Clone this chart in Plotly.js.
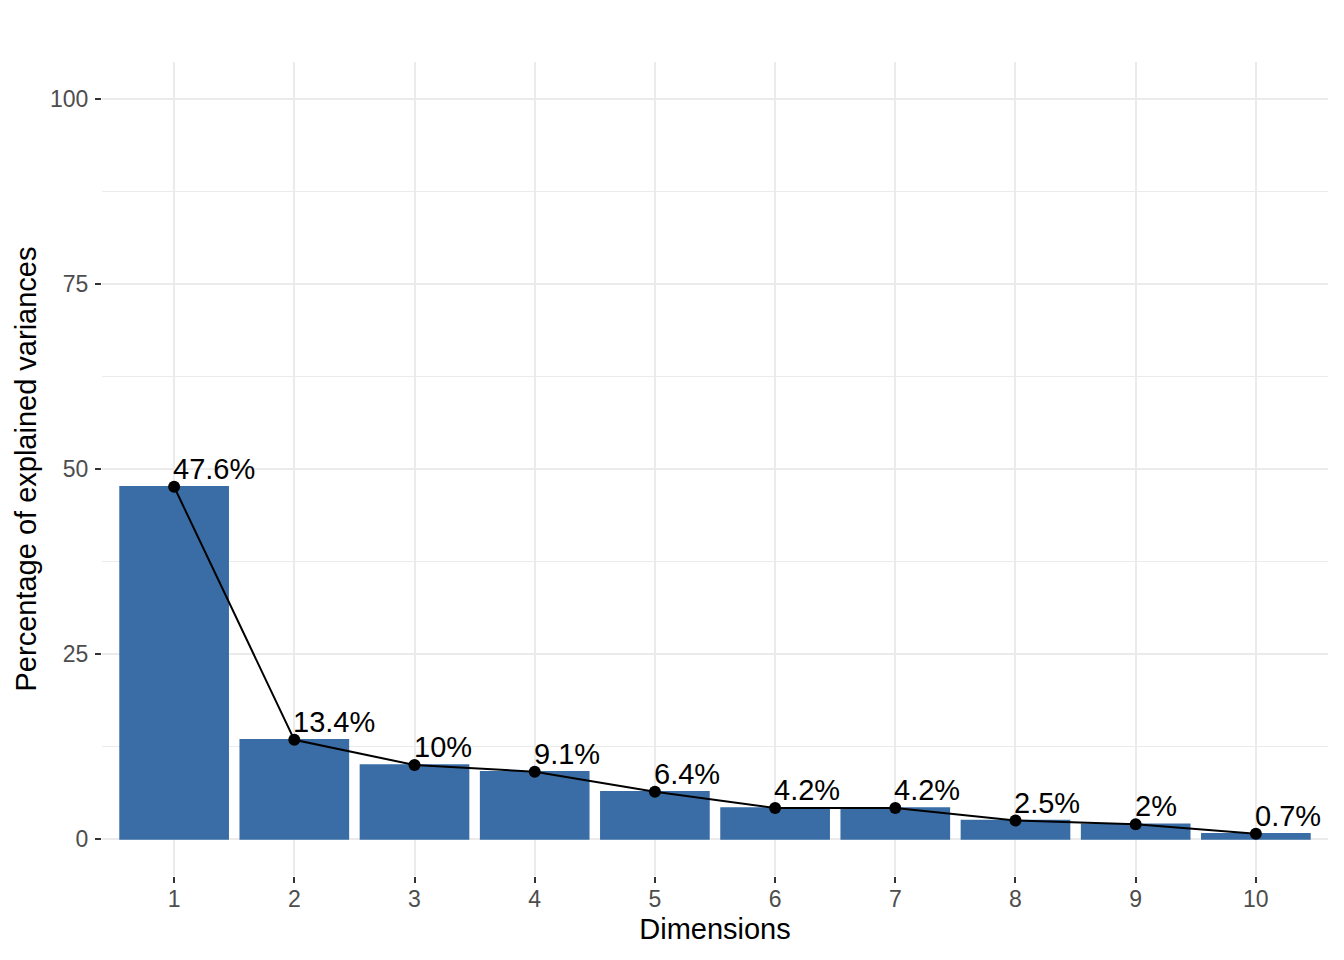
<!DOCTYPE html>
<html>
<head>
<meta charset="utf-8">
<script src="https://cdn.plot.ly/plotly-3.0.1.min.js"></script>
<style>
  body { margin: 0; background: #fff; }
  #gd { width: 1344px; height: 960px; }
</style>
</head>
<body>
<div id="gd"></div>
<script>
// explained variance per dimension (%)
const dims = [1, 2, 3, 4, 5, 6, 7, 8, 9, 10];
const variance = [47.6, 13.4, 10.0, 9.1, 6.4, 4.2, 4.2, 2.5, 2.0, 0.7];
const labels = ["47.6%", "13.4%", "10%", "9.1%", "6.4%", "4.2%", "4.2%", "2.5%", "2%", "0.7%"];

const font = "Liberation Sans, Arial, sans-serif";
const barColor = "#3A6DA5";

const bars = {
  x: dims,
  y: variance,
  type: "bar",
  width: 0.9,
  marker: { color: barColor, line: { color: barColor, width: 1.5 } },
  hoverinfo: "skip"
};

const line = {
  x: dims,
  y: variance,
  type: "scatter",
  mode: "lines+markers",
  line: { color: "#000", width: 2 },
  marker: { color: "#000", size: 12 },
  hoverinfo: "skip"
};

const notes = dims.map((d, i) => ({
  x: d,
  y: variance[i],
  text: labels[i],
  showarrow: false,
  xanchor: "left",
  yanchor: "bottom",
  xshift: -3,
  yshift: 0,
  font: { family: font, size: 29, color: "#000" }
}));

const layout = {
  width: 1344,
  height: 960,
  margin: { l: 102, r: 16, t: 62, b: 84 },
  paper_bgcolor: "#fff",
  plot_bgcolor: "#fff",
  showlegend: false,
  bargap: 0,
  font: { family: font },
  xaxis: {
    range: [0.4, 10.6],
    tickvals: dims,
    ticktext: dims.map(String),
    showgrid: true,
    gridcolor: "#EBEBEB",
    gridwidth: 2,
    zeroline: false,
    showline: false,
    ticks: "outside",
    ticklen: 6,
    tickwidth: 2,
    tickcolor: "#333333",
    ticklabelstandoff: -4,
    tickfont: { family: font, size: 23, color: "#4D4D4D" },
    title: { text: "Dimensions", font: { family: font, size: 29, color: "#000" }, standoff: 8 }
  },
  yaxis: {
    range: [-5, 105],
    tickvals: [0, 25, 50, 75, 100],
    showgrid: true,
    gridcolor: "#EBEBEB",
    gridwidth: 2,
    zeroline: false,
    showline: false,
    ticks: "outside",
    ticklen: 6,
    tickwidth: 2,
    tickcolor: "#333333",
    ticklabelstandoff: 2,
    tickfont: { family: font, size: 23, color: "#4D4D4D" },
    minor: { tickvals: [12.5, 37.5, 62.5, 87.5], showgrid: true, gridcolor: "#EBEBEB", gridwidth: 1, ticks: "" },
    title: { text: "Percentage of explained variances", font: { family: font, size: 29, color: "#000" }, standoff: 4 }
  },
  annotations: notes
};

Plotly.newPlot("gd", [bars, line], layout, { staticPlot: true });
</script>
</body>
</html>
